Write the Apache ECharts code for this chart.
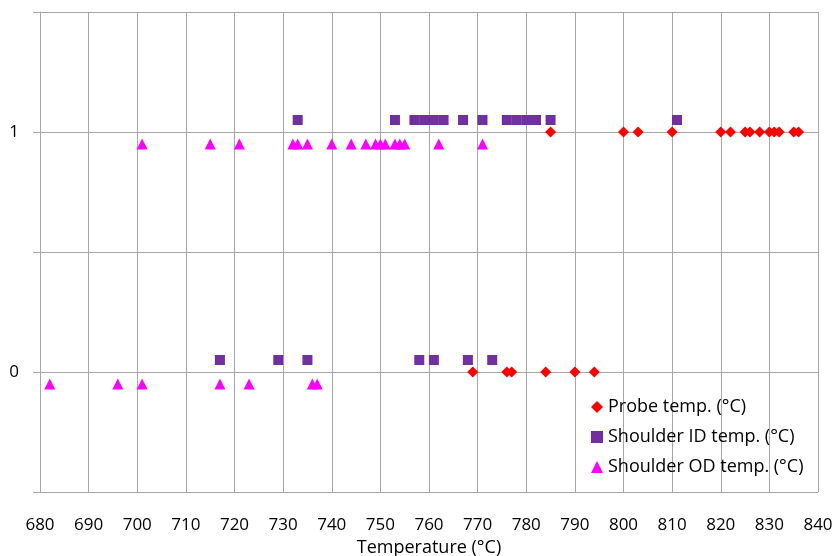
<!DOCTYPE html>
<html>
<head>
<meta charset="utf-8">
<script src="https://cdn.jsdelivr.net/npm/echarts@6/dist/echarts.min.js"></script>
<style>
  html, body { margin: 0; padding: 0; background: #fff; }
  #chart { width: 834px; height: 556px; }
</style>
</head>
<body>
<div id="chart"></div>
<script>
// temperatures, [temp, y]
var probeTemp = [
    [785, 1], [800, 1], [803, 1], [810, 1], [820, 1], [822, 1], [825, 1], [826, 1],
    [828, 1], [830, 1], [831, 1], [832, 1], [835, 1], [836, 1],
    [769, 0], [776, 0], [777, 0], [784, 0], [790, 0], [794, 0]
];
var shoulderIdTemp = [
    [733, 1.05], [753, 1.05], [757, 1.05], [759, 1.05], [761, 1.05], [763, 1.05],
    [767, 1.05], [771, 1.05], [776, 1.05], [778, 1.05], [780, 1.05], [782, 1.05],
    [785, 1.05], [811, 1.05],
    [717, 0.05], [729, 0.05], [735, 0.05], [758, 0.05], [761, 0.05], [768, 0.05], [773, 0.05]
];
var shoulderOdTemp = [
    [701, 0.95], [715, 0.95], [721, 0.95], [732, 0.95], [733, 0.95], [735, 0.95],
    [740, 0.95], [744, 0.95], [747, 0.95], [749, 0.95], [750, 0.95], [751, 0.95],
    [753, 0.95], [754, 0.95], [755, 0.95], [762, 0.95], [771, 0.95],
    [682, -0.05], [696, -0.05], [701, -0.05], [717, -0.05], [723, -0.05], [736, -0.05], [737, -0.05]
];
var seriesNames = ['Probe temp. (°C)', 'Shoulder ID temp. (°C)', 'Shoulder OD temp. (°C)'];

var fontName = '"Open Sans", "Noto Sans", sans-serif';
var gridColor = '#a6a6a6';

var myChart = echarts.init(document.getElementById('chart'));

var option = {
    animation: false,
    grid: { left: 40, right: 16, top: 12, bottom: 64, outerBoundsMode: 'none' },
    legend: {
        orient: 'vertical',
        left: 586,
        top: 393,
        itemGap: 12,
        itemWidth: 12,
        itemHeight: 12,
        textStyle: { fontFamily: fontName, fontSize: 18, color: '#000' },
        data: seriesNames
    },
    xAxis: {
        type: 'value',
        min: 680, max: 840, interval: 10,
        name: 'Temperature (°C)',
        nameLocation: 'middle',
        nameGap: 47,
        nameTextStyle: { fontFamily: fontName, fontSize: 18, color: '#000' },
        axisLine: { show: true, lineStyle: { color: gridColor } },
        axisTick: { show: true, length: 5, lineStyle: { color: gridColor } },
        axisLabel: { margin: 25, fontFamily: fontName, fontSize: 17, color: '#000' },
        splitLine: { show: true, lineStyle: { color: gridColor } }
    },
    yAxis: {
        type: 'value',
        min: -0.5, max: 1.5, interval: 0.5,
        axisLine: { show: true, lineStyle: { color: gridColor } },
        axisTick: { show: true, length: 7, lineStyle: { color: gridColor } },
        axisLabel: {
            margin: 21, fontFamily: fontName, fontSize: 17, color: '#000',
            formatter: function (v) { return (v === 0 || v === 1) ? String(v) : ''; }
        },
        splitLine: { show: true, lineStyle: { color: gridColor } }
    },
    series: [
        {
            name: seriesNames[0], type: 'scatter', symbol: 'diamond', symbolSize: 11,
            itemStyle: { color: '#ff0000', opacity: 1 }, data: probeTemp
        },
        {
            name: seriesNames[1], type: 'scatter', symbol: 'rect', symbolSize: 10,
            itemStyle: { color: '#7030a0', opacity: 1 }, data: shoulderIdTemp
        },
        {
            name: seriesNames[2], type: 'scatter', symbol: 'triangle', symbolSize: 11,
            itemStyle: { color: '#ff00ff', opacity: 1 }, data: shoulderOdTemp
        }
    ]
};

myChart.setOption(option);
</script>
</body>
</html>
